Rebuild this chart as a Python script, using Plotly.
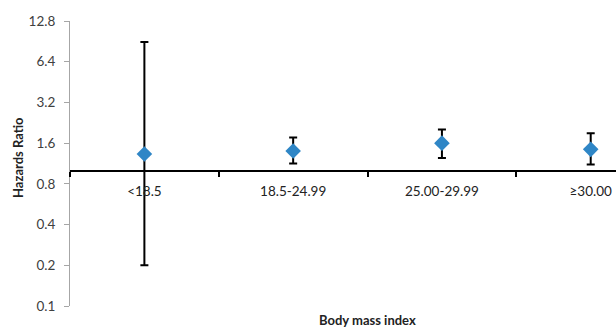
import plotly.graph_objects as go
import math

categories = ["<18.5", "18.5-24.99", "25.00-29.99", "≥30.00"]
hr = [1.33, 1.40, 1.60, 1.44]
ci_upper = [8.95, 1.76, 2.02, 1.89]
ci_lower = [0.20, 1.13, 1.24, 1.11]
y_ticks = [0.1, 0.2, 0.4, 0.8, 1.6, 3.2, 6.4, 12.8]
y_ticktext = ["0.1", "0.2", "0.4", "0.8", "1.6", "3.2", "6.4", "12.8"]

err_plus = [u - v for u, v in zip(ci_upper, hr)]
err_minus = [v - l for v, l in zip(hr, ci_lower)]

font_family = "Lato, 'Open Sans', sans-serif"

fig = go.Figure()
fig.add_trace(go.Scatter(
    x=categories, y=hr, mode="markers",
    marker=dict(symbol="diamond", size=12, color="#2F86C6"),
    error_y=dict(type="data", symmetric=False, array=err_plus, arrayminus=err_minus,
                 color="black", thickness=2, width=4),
    showlegend=False,
))

ymin, ymax = math.log10(0.1), math.log10(12.8)
cross = (math.log10(1.0) - ymin) / (ymax - ymin)

fig.update_layout(
    width=616, height=329,
    margin=dict(l=70, r=0, t=21, b=23),
    paper_bgcolor="white", plot_bgcolor="white",
    font=dict(family=font_family, size=13, color="#333333"),
    xaxis=dict(
        type="category", range=[-0.5, 3.17],
        anchor="free", position=cross,
        showline=True, linecolor="black", linewidth=2,
        ticks="outside", tickson="boundaries", ticklen=5, tickcolor="black", tickwidth=2,
        ticklabelstandoff=8,
        tickfont=dict(size=13.5, color="#222222"),
        showgrid=False, zeroline=False,
    ),
    yaxis=dict(
        type="log", range=[ymin, ymax],
        tickvals=y_ticks, ticktext=y_ticktext,
        showline=True, linecolor="#A6A6A6", linewidth=1,
        ticks="outside", ticklen=5, tickcolor="#A6A6A6",
        ticklabelstandoff=6,
        tickfont=dict(size=13.5, color="#404040"),
        showgrid=False, zeroline=False,
    ),
)

fig.add_annotation(
    text="<b>Hazards Ratio</b>", xref="paper", yref="paper",
    x=-(70 - 18) / 546, y=(306 - 158) / 285, textangle=-90, showarrow=False,
    xanchor="center", yanchor="middle",
    font=dict(size=13, color="#222222"),
)

fig.add_annotation(
    text="<b>Body mass index</b>", xref="paper", yref="paper",
    x=(367 - 70) / 546, y=0, yshift=-14, showarrow=False,
    font=dict(size=13, color="#222222"), yanchor="middle",
)

fig.write_html("out.html", config={"displayModeBar": False},
               post_script="document.body.style.margin='0';")
